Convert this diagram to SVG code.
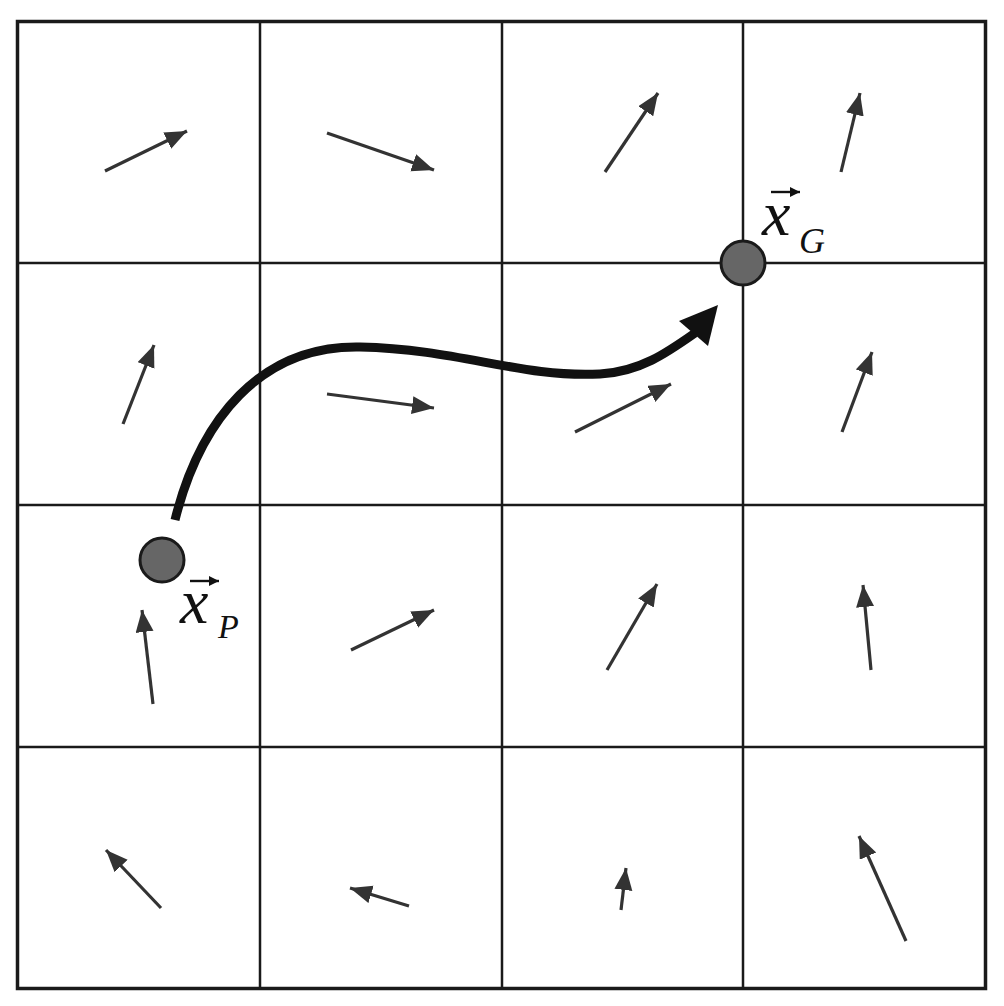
<svg xmlns="http://www.w3.org/2000/svg" width="1004" height="1006" viewBox="0 0 1004 1006">
<style>
.grid{stroke:#1a1a1a;stroke-width:2.5;fill:none}
.v{stroke:#333;stroke-width:3.2;fill:none;marker-end:url(#ah)}
.dot{fill:#666;stroke:#1a1a1a;stroke-width:3}
.lab{font-family:"Liberation Serif","DejaVu Serif",serif;font-style:italic;fill:#111}
.vec{stroke:#111;stroke-width:2.4;fill:none;marker-end:url(#vh)}
</style>
<defs>
<marker id="ah" markerUnits="userSpaceOnUse" markerWidth="24" markerHeight="20" refX="22" refY="9" orient="auto"><path d="M0,0 L22,9 L0,18 Z" fill="#333"/></marker>
<marker id="vh" markerUnits="userSpaceOnUse" markerWidth="12" markerHeight="10" refX="10" refY="5" orient="auto"><path d="M0,0 L10,5 L0,10 Z" fill="#111"/></marker>
</defs>
<rect width="1004" height="1006" fill="#fff"/>
<g id="grid">
<rect x="17.5" y="21.5" width="968" height="967" fill="none" stroke="#1a1a1a" stroke-width="3.5"/>
<line class="grid" x1="260" y1="21" x2="260" y2="989"/>
<line class="grid" x1="502" y1="21" x2="502" y2="989"/>
<line class="grid" x1="743" y1="21" x2="743" y2="989"/>
<line class="grid" x1="18" y1="263" x2="986" y2="263"/>
<line class="grid" x1="18" y1="505" x2="986" y2="505"/>
<line class="grid" x1="18" y1="747" x2="986" y2="747"/>
</g>
<g id="connectors">
<line class="v" x1="105" y1="171" x2="187" y2="131"/>
<line class="v" x1="327" y1="133" x2="434" y2="170"/>
<line class="v" x1="605" y1="172" x2="658" y2="93"/>
<line class="v" x1="841" y1="172" x2="860" y2="93"/>
<line class="v" x1="123" y1="424" x2="154" y2="345"/>
<line class="v" x1="327" y1="394" x2="434" y2="408"/>
<line class="v" x1="575" y1="432" x2="671" y2="384"/>
<line class="v" x1="842" y1="432" x2="872" y2="352"/>
<line class="v" x1="153" y1="704" x2="142" y2="610"/>
<line class="v" x1="351" y1="650" x2="434" y2="610"/>
<line class="v" x1="607" y1="670" x2="657" y2="584"/>
<line class="v" x1="871" y1="670" x2="863" y2="585"/>
<line class="v" x1="161" y1="908" x2="106" y2="850"/>
<line class="v" x1="409" y1="906" x2="350" y2="888"/>
<line class="v" x1="621" y1="910" x2="626" y2="868"/>
<line class="v" x1="906" y1="941" x2="859" y2="836"/>
<g id="path">
<path d="M175,520 C200,420 260,345 360,347 C460,349 520,378 600,374 C640,372 668,352 695,333" fill="none" stroke="#111" stroke-width="9"/>
<polygon points="718,305 679,321 708,346" fill="#111"/>
</g>
</g>
<g id="xG">
<circle class="dot" cx="743" cy="263" r="22"/>
<line class="vec" x1="771" y1="192" x2="800" y2="192"/>
<text class="lab" x="762" y="235" font-size="64">x</text>
<text class="lab" x="799" y="253" font-size="36">G</text>
</g>
<g id="xP">
<circle class="dot" cx="162" cy="560" r="22"/>
<line class="vec" x1="190" y1="581" x2="219" y2="581"/>
<text class="lab" x="180" y="623" font-size="64">x</text>
<text class="lab" x="218" y="638" font-size="34">P</text>
</g>
</svg>
